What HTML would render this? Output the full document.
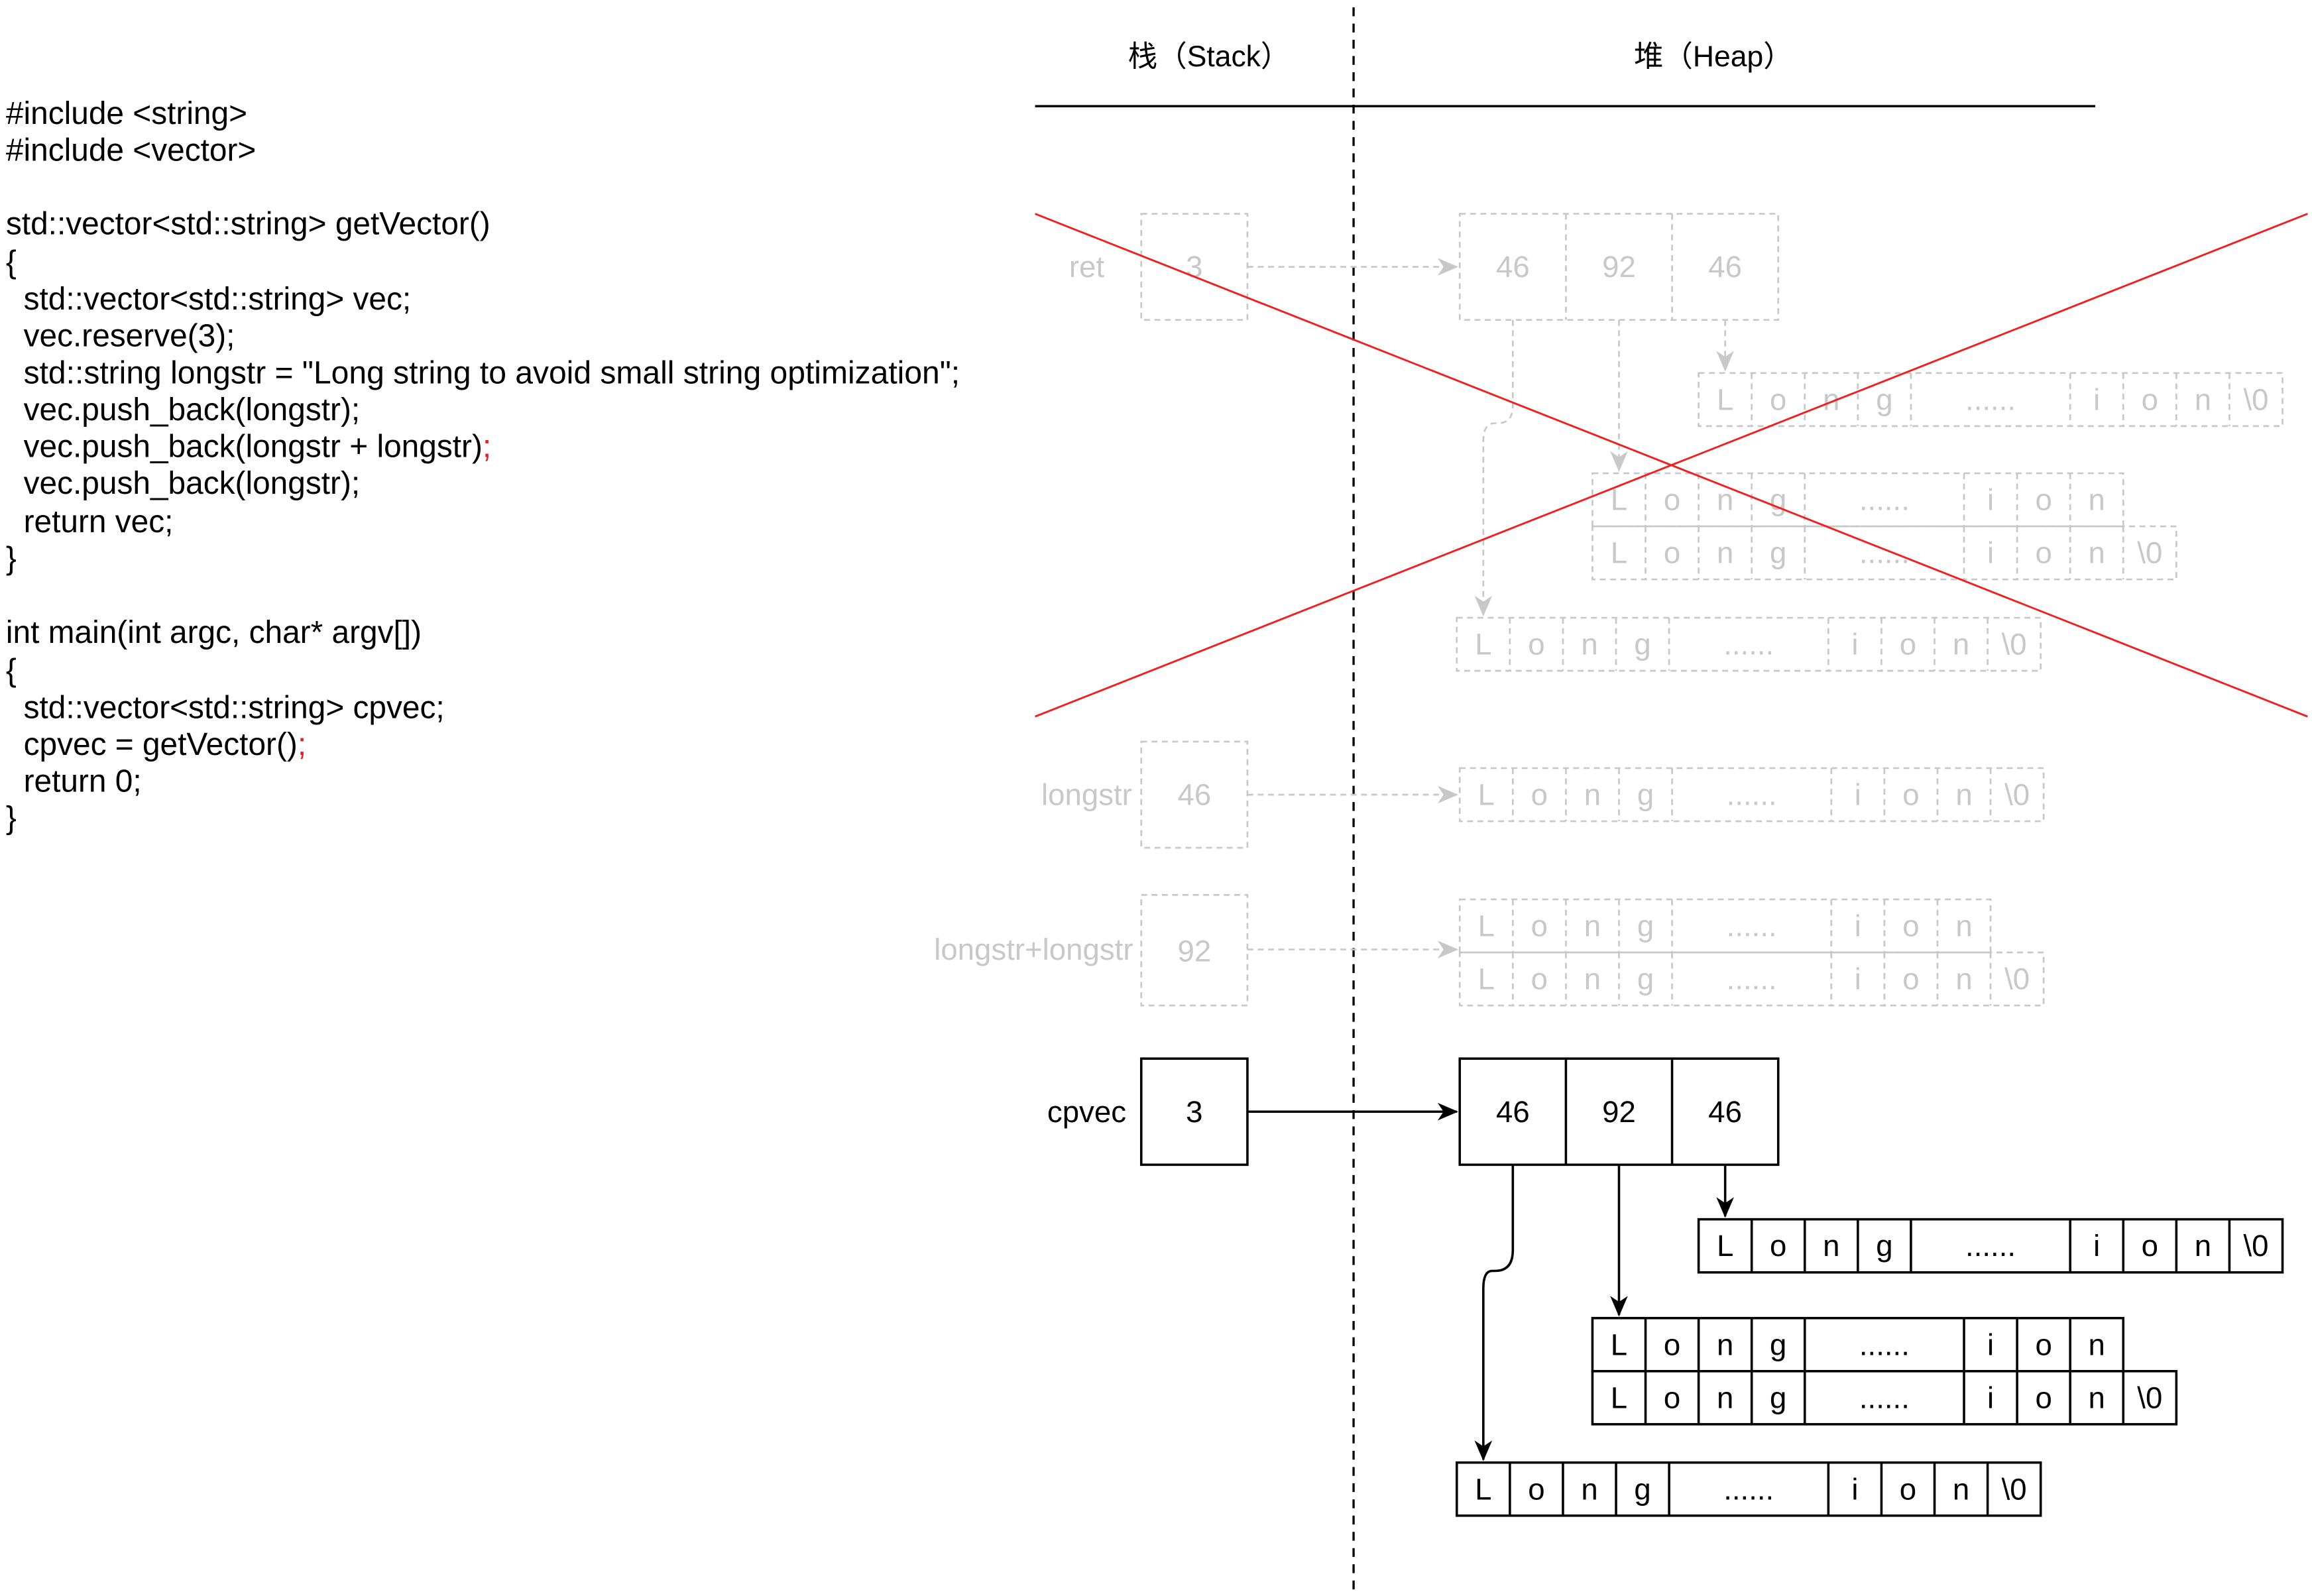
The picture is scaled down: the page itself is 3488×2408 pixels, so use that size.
<!DOCTYPE html>
<html><head><meta charset="utf-8"><style>
html,body{margin:0;padding:0;background:#fff;}
svg{display:block;}
text{font-family:"Liberation Sans","Noto Sans CJK SC",sans-serif;}
</style></head><body>
<svg width="3488" height="2408" viewBox="0 0 1568 1082.5" preserveAspectRatio="none" xmlns="http://www.w3.org/2000/svg">
<defs>
<marker id="ab" markerWidth="14" markerHeight="14" refX="13" refY="7" orient="auto" markerUnits="userSpaceOnUse"><path d="M0,1 L14,7 L0,13 L4,7 Z" fill="#000"/></marker>
<marker id="ag" markerWidth="14" markerHeight="14" refX="13" refY="7" orient="auto" markerUnits="userSpaceOnUse"><path d="M0,1 L14,7 L0,13 L4,7 Z" fill="#c8c8c8"/></marker>
</defs>

<text x="820" y="45" font-size="20" text-anchor="middle">栈（Stack）</text>
<text x="1162" y="45" font-size="20" text-anchor="middle">堆（Heap）</text>
<line x1="702" y1="72" x2="1421" y2="72" stroke="#000" stroke-width="1.5"/>
<line x1="918" y1="5" x2="918" y2="1080" stroke="#000" stroke-width="1.5" stroke-dasharray="6,5"/>

<g font-size="21.5" fill="#000">
<text x="4" y="84">#include &lt;string&gt;</text>
<text x="4" y="109">#include &lt;vector&gt;</text>
<text x="4" y="159">std::vector&lt;std::string&gt; getVector()</text>
<text x="4" y="185">{</text>
<text x="16" y="210">std::vector&lt;std::string&gt; vec;</text>
<text x="16" y="235">vec.reserve(3);</text>
<text x="16" y="260" textLength="635" lengthAdjust="spacingAndGlyphs">std::string longstr = "Long string to avoid small string optimization";</text>
<text x="16" y="285">vec.push_back(longstr);</text>
<text x="16" y="310">vec.push_back(longstr + longstr)<tspan fill="#e02020">;</tspan></text>
<text x="16" y="335">vec.push_back(longstr);</text>
<text x="16" y="361">return vec;</text>
<text x="4" y="386">}</text>
<text x="4" y="436">int main(int argc, char* argv[])</text>
<text x="4" y="462">{</text>
<text x="16" y="487">std::vector&lt;std::string&gt; cpvec;</text>
<text x="16" y="512">cpvec = getVector()<tspan fill="#e02020">;</tspan></text>
<text x="16" y="537">return 0;</text>
<text x="4" y="562">}</text>
</g>

<g stroke="#c8c8c8" stroke-width="1.2" stroke-dasharray="4,3" fill="none">
<rect x="774" y="145" width="72" height="72"/>
<rect x="990" y="145" width="216" height="72"/>
<line x1="1062" y1="145" x2="1062" y2="217"/><line x1="1134" y1="145" x2="1134" y2="217"/>
<rect x="774" y="503" width="72" height="72"/>
<rect x="774" y="607" width="72" height="75"/>
<rect x="1152" y="253" width="396" height="36"/>
<path d="M1188,253v36M1224,253v36M1260,253v36M1296,253v36M1404,253v36M1440,253v36M1476,253v36M1512,253v36"/>
<rect x="1080" y="321" width="360" height="36"/>
<path d="M1116,321v36M1152,321v36M1188,321v36M1224,321v36M1332,321v36M1368,321v36M1404,321v36"/>
<rect x="1080" y="357" width="396" height="36"/>
<path d="M1116,357v36M1152,357v36M1188,357v36M1224,357v36M1332,357v36M1368,357v36M1404,357v36M1440,357v36"/>
<rect x="988" y="419" width="396" height="36"/>
<path d="M1024,419v36M1060,419v36M1096,419v36M1132,419v36M1240,419v36M1276,419v36M1312,419v36M1348,419v36"/>
<rect x="990" y="521" width="396" height="36"/>
<path d="M1026,521v36M1062,521v36M1098,521v36M1134,521v36M1242,521v36M1278,521v36M1314,521v36M1350,521v36"/>
<rect x="990" y="610" width="360" height="36"/>
<path d="M1026,610v36M1062,610v36M1098,610v36M1134,610v36M1242,610v36M1278,610v36M1314,610v36"/>
<rect x="990" y="646" width="396" height="36"/>
<path d="M1026,646v36M1062,646v36M1098,646v36M1134,646v36M1242,646v36M1278,646v36M1314,646v36M1350,646v36"/>
<path d="M846,181H988" marker-end="url(#ag)"/>
<path d="M1170,217V251" marker-end="url(#ag)"/>
<path d="M1098,217V319" marker-end="url(#ag)"/>
<path d="M1026,217V275q0,12 -10,12h-2q-8,0 -8,12V417" marker-end="url(#ag)"/>
<path d="M846,539H988" marker-end="url(#ag)"/>
<path d="M846,644H988" marker-end="url(#ag)"/>
</g>
<g fill="#c8c8c8" font-size="20.5" text-anchor="middle">
<text x="737" y="188">ret</text>
<text x="810" y="188">3</text>
<text x="1026" y="188">46</text><text x="1098" y="188">92</text><text x="1170" y="188">46</text>
<text x="1170" y="278">L</text><text x="1206" y="278">o</text><text x="1242" y="278">n</text><text x="1278" y="278">g</text><text x="1350" y="278">......</text><text x="1422" y="278">i</text><text x="1458" y="278">o</text><text x="1494" y="278">n</text><text x="1530" y="278">\0</text>
<text x="1098" y="346">L</text><text x="1134" y="346">o</text><text x="1170" y="346">n</text><text x="1206" y="346">g</text><text x="1278" y="346">......</text><text x="1350" y="346">i</text><text x="1386" y="346">o</text><text x="1422" y="346">n</text>
<text x="1098" y="382">L</text><text x="1134" y="382">o</text><text x="1170" y="382">n</text><text x="1206" y="382">g</text><text x="1278" y="382">......</text><text x="1350" y="382">i</text><text x="1386" y="382">o</text><text x="1422" y="382">n</text><text x="1458" y="382">\0</text>
<text x="1006" y="444">L</text><text x="1042" y="444">o</text><text x="1078" y="444">n</text><text x="1114" y="444">g</text><text x="1186" y="444">......</text><text x="1258" y="444">i</text><text x="1294" y="444">o</text><text x="1330" y="444">n</text><text x="1366" y="444">\0</text>
<text x="737" y="546">longstr</text>
<text x="810" y="546">46</text>
<text x="1008" y="546">L</text><text x="1044" y="546">o</text><text x="1080" y="546">n</text><text x="1116" y="546">g</text><text x="1188" y="546">......</text><text x="1260" y="546">i</text><text x="1296" y="546">o</text><text x="1332" y="546">n</text><text x="1368" y="546">\0</text>
<text x="701" y="651">longstr+longstr</text>
<text x="810" y="652">92</text>
<text x="1008" y="635">L</text><text x="1044" y="635">o</text><text x="1080" y="635">n</text><text x="1116" y="635">g</text><text x="1188" y="635">......</text><text x="1260" y="635">i</text><text x="1296" y="635">o</text><text x="1332" y="635">n</text>
<text x="1008" y="671">L</text><text x="1044" y="671">o</text><text x="1080" y="671">n</text><text x="1116" y="671">g</text><text x="1188" y="671">......</text><text x="1260" y="671">i</text><text x="1296" y="671">o</text><text x="1332" y="671">n</text><text x="1368" y="671">\0</text>
</g>

<line x1="702" y1="145" x2="1565" y2="486" stroke="#f02020" stroke-width="1.3"/>
<line x1="702" y1="486" x2="1565" y2="145" stroke="#f02020" stroke-width="1.3"/>

<g stroke="#000" stroke-width="1.6" fill="none">
<rect x="774" y="718" width="72" height="72"/>
<rect x="990" y="718" width="216" height="72"/>
<line x1="1062" y1="718" x2="1062" y2="790"/><line x1="1134" y1="718" x2="1134" y2="790"/>
<rect x="1152" y="827" width="396" height="36"/>
<path d="M1188,827v36M1224,827v36M1260,827v36M1296,827v36M1404,827v36M1440,827v36M1476,827v36M1512,827v36"/>
<rect x="1080" y="894" width="360" height="36"/>
<path d="M1116,894v36M1152,894v36M1188,894v36M1224,894v36M1332,894v36M1368,894v36M1404,894v36"/>
<rect x="1080" y="930" width="396" height="36"/>
<path d="M1116,930v36M1152,930v36M1188,930v36M1224,930v36M1332,930v36M1368,930v36M1404,930v36M1440,930v36"/>
<rect x="988" y="992" width="396" height="36"/>
<path d="M1024,992v36M1060,992v36M1096,992v36M1132,992v36M1240,992v36M1276,992v36M1312,992v36M1348,992v36"/>
<path d="M846,754H988" marker-end="url(#ab)"/>
<path d="M1170,790V825" marker-end="url(#ab)"/>
<path d="M1098,790V892" marker-end="url(#ab)"/>
<path d="M1026,790V848q0,14 -12,14h-2q-6,0 -6,12V990" marker-end="url(#ab)"/>
</g>
<g fill="#000" font-size="20.5" text-anchor="middle">
<text x="737" y="761">cpvec</text>
<text x="810" y="761">3</text>
<text x="1026" y="761">46</text><text x="1098" y="761">92</text><text x="1170" y="761">46</text>
<text x="1170" y="852">L</text><text x="1206" y="852">o</text><text x="1242" y="852">n</text><text x="1278" y="852">g</text><text x="1350" y="852">......</text><text x="1422" y="852">i</text><text x="1458" y="852">o</text><text x="1494" y="852">n</text><text x="1530" y="852">\0</text>
<text x="1098" y="919">L</text><text x="1134" y="919">o</text><text x="1170" y="919">n</text><text x="1206" y="919">g</text><text x="1278" y="919">......</text><text x="1350" y="919">i</text><text x="1386" y="919">o</text><text x="1422" y="919">n</text>
<text x="1098" y="955">L</text><text x="1134" y="955">o</text><text x="1170" y="955">n</text><text x="1206" y="955">g</text><text x="1278" y="955">......</text><text x="1350" y="955">i</text><text x="1386" y="955">o</text><text x="1422" y="955">n</text><text x="1458" y="955">\0</text>
<text x="1006" y="1017">L</text><text x="1042" y="1017">o</text><text x="1078" y="1017">n</text><text x="1114" y="1017">g</text><text x="1186" y="1017">......</text><text x="1258" y="1017">i</text><text x="1294" y="1017">o</text><text x="1330" y="1017">n</text><text x="1366" y="1017">\0</text>
</g>
</svg>
</body></html>
